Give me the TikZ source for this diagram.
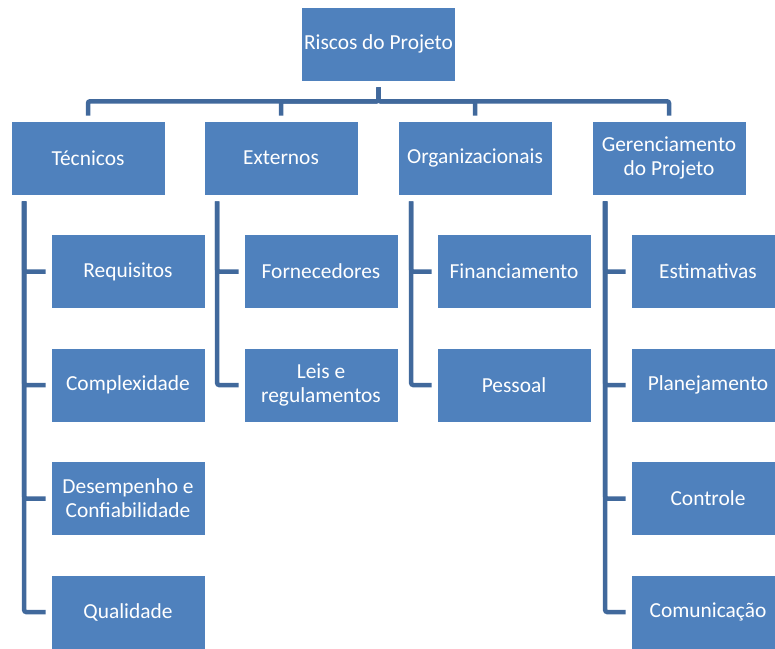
\documentclass[tikz,border=0pt]{standalone}
\usepackage{fontspec}
\setmainfont{Carlito}
\definecolor{boxblue}{HTML}{4F81BD}
\definecolor{lineblue}{HTML}{41699C}
\tikzset{
  box/.style={draw=white, line width=0.6pt, fill=boxblue, text=white,
    minimum width=154pt, minimum height=74pt, inner sep=2pt, align=center,
    font=\fontsize{21.4}{24}\selectfont},
  conn/.style={lineblue, line width=4.5pt, shorten <=6pt, shorten >=5pt,
    rounded corners=2pt}
}
\begin{document}
\begin{tikzpicture}[x=1pt,y=1pt]
      \clip (0,0) rectangle (775,-648);
      \draw
        (378.5,-44) node[box] (r){Riscos do Projeto}
        (88,-158) node[box] (t){Técnicos}
        (281,-158) node[box] (e){Externos}
        (475,-158) node[box] (o){Organizacionais}
        (669,-158) node[box] (g){Gerenciamento\\do Projeto}
        (128,-271.5) node[box] (t1){Requisitos}
        (128,-385) node[box] (t2){Complexidade}
        (128,-498.5) node[box] (t3){Desempenho e\\Confiabilidade}
        (128,-612) node[box] (t4){Qualidade}
        (321,-271.5) node[box] (e1){Fornecedores}
        (321,-385) node[box] (e2){Leis e\\regulamentos}
        (514,-271.5) node[box] (o1){Financiamento}
        (514,-385) node[box] (o2){Pessoal}
        (708,-271.5) node[box] (g1){Estimativas}
        (708,-385) node[box] (g2){Planejamento}
        (708,-498.5) node[box] (g3){Controle}
        (708,-612) node[box] (g4){Comunicação};
      \begin{scope}[conn]
        \draw (r.south) -- ++(0,-20) -| (t.north);
        \draw (r.south) -- ++(0,-20) -| (e.north);
        \draw (r.south) -- ++(0,-20) -| (o.north);
        \draw (r.south) -- ++(0,-20) -| (g.north);
        \draw ([xshift=13.5]t.south west) |- (t1.west);
        \draw ([xshift=13.5]t.south west) |- (t2.west);
        \draw ([xshift=13.5]t.south west) |- (t3.west);
        \draw ([xshift=13.5]t.south west) |- (t4.west);
        \draw ([xshift=13.5]e.south west) |- (e1.west);
        \draw ([xshift=13.5]e.south west) |- (e2.west);
        \draw ([xshift=13.5]o.south west) |- (o1.west);
        \draw ([xshift=13.5]o.south west) |- (o2.west);
        \draw ([xshift=13.5]g.south west) |- (g1.west);
        \draw ([xshift=13.5]g.south west) |- (g2.west);
        \draw ([xshift=13.5]g.south west) |- (g3.west);
        \draw ([xshift=13.5]g.south west) |- (g4.west);
      \end{scope}
    \end{tikzpicture}
\end{document}
